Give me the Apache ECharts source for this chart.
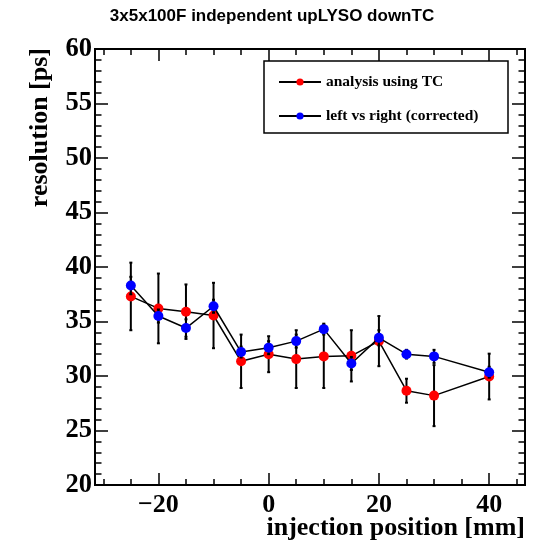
<!DOCTYPE html>
<html>
<head>
<meta charset="utf-8">
<script src="https://cdn.jsdelivr.net/npm/echarts@6/dist/echarts.min.js"></script>
<style>html,body{margin:0;padding:0;background:#fff;}#c{width:544px;height:550px;}</style>
</head>
<body>
<div id="c"></div>
<script>
// ---- data ----
var positions = [-25, -20, -15, -10, -5, 0, 5, 10, 15, 20, 25, 30, 40];
var tcRes  = [37.3, 36.2, 35.9, 35.55, 31.35, 32.0, 31.55, 31.8, 31.85, 33.2, 28.65, 28.2, 29.95];
var tcErr  = [3.1, 3.2, 2.5, 3.0, 2.45, 1.65, 2.65, 2.9, 2.35, 2.3, 1.1, 2.8, 2.1];
var lrRes  = [38.3, 35.5, 34.4, 36.4, 32.2, 32.6, 33.2, 34.3, 31.15, 33.5, 32.0, 31.8, 30.35];
var lrErr  = [0.8, 0.6, 0.8, 0.6, 0.5, 0.6, 0.6, 0.5, 0.6, 0.7, 0.4, 0.6, 0.5];
var xMajorTicks = [-20, 0, 20, 40];
var xMinorTicks = [-30, -25, -15, -10, -5, 5, 10, 15, 25, 30, 35, 45];
var seriesNames = ['analysis using TC', 'left vs right (corrected)'];
var titleText = '3x5x100F independent upLYSO downTC';
var xTitle = 'injection position [mm]';
var yTitle = 'resolution [ps]';

var serif = '"Liberation Serif", "DejaVu Serif", serif';
var sans = '"Liberation Sans", Arial, sans-serif';

function pairs(xs, ys) { return xs.map(function (x, i) { return [x, ys[i]]; }); }
function errData(xs, ys, es) { return xs.map(function (x, i) { return [x, ys[i] - es[i], ys[i] + es[i]]; }); }

function errRender(params, api) {
  var x = api.value(0);
  var lo = api.coord([x, api.value(1)]);
  var hi = api.coord([x, api.value(2)]);
  var w = 1.5;
  var st = { stroke: '#000', lineWidth: 2 };
  return {
    type: 'group',
    children: [
      { type: 'line', shape: { x1: lo[0], y1: lo[1], x2: hi[0], y2: hi[1] }, style: st },
      { type: 'line', shape: { x1: lo[0] - w, y1: lo[1], x2: lo[0] + w, y2: lo[1] }, style: st },
      { type: 'line', shape: { x1: hi[0] - w, y1: hi[1], x2: hi[0] + w, y2: hi[1] }, style: st }
    ]
  };
}

var XMIN = -31.5, XMAX = 46.5;
function xAx(pos, vals, len, labels) {
  return {
    type: 'value', position: pos, min: XMIN, max: XMAX,
    axisLine: { show: false, onZero: false },
    splitLine: { show: false },
    axisTick: { show: true, inside: true, length: len, customValues: vals, lineStyle: { color: '#000', width: 1.5 } },
    axisLabel: labels ? {
      show: true, customValues: vals, margin: 7,
      fontFamily: serif, fontWeight: 'bold', fontSize: 26, color: '#000',
      formatter: function (v) { return v < 0 ? '\u2212' + Math.abs(v) : String(v); }
    } : { show: false }
  };
}
function yAx(pos, labels) {
  return {
    type: 'value', position: pos, min: 20, max: 60, interval: 5,
    axisLine: { show: false, onZero: false },
    splitLine: { show: false },
    axisTick: { show: true, inside: true, length: 13, lineStyle: { color: '#000', width: 1.5 } },
    minorTick: { show: true, splitNumber: 5, length: 6.5, lineStyle: { color: '#000', width: 1.5 } },
    axisLabel: labels ? { show: true, margin: 3, fontFamily: serif, fontWeight: 'bold', fontSize: 26.5, color: '#000' } : { show: false }
  };
}

var chart = echarts.init(document.getElementById('c'), null, { renderer: 'canvas' });
chart.setOption({
  animation: false,
  backgroundColor: '#fff',
  title: {
    text: titleText, left: 'center', top: 3,
    textStyle: { fontFamily: sans, fontWeight: 'bold', fontSize: 17, color: '#000' }
  },
  grid: { left: 95, right: 19, top: 49, bottom: 65, show: true, borderColor: '#000', borderWidth: 2, backgroundColor: 'transparent' },
  xAxis: [
    xAx('bottom', xMajorTicks, 12, true),
    xAx('bottom', xMinorTicks, 6, false),
    xAx('top', xMajorTicks, 12, false),
    xAx('top', xMinorTicks, 6, false)
  ],
  yAxis: [yAx('left', true), yAx('right', false)],
  legend: {
    orient: 'vertical', left: 273, top: 69, itemGap: 18,
    itemWidth: 42, itemHeight: 9,
    textStyle: { fontFamily: serif, fontWeight: 'bold', fontSize: 15.5, color: '#000' },
    data: seriesNames
  },
  graphic: [
    { type: 'rect', shape: { x: 264, y: 61, width: 244, height: 72 }, style: { fill: 'none', stroke: '#000', lineWidth: 1.5 }, z: 100 },
    { type: 'text', x: 525, y: 528, style: { text: xTitle, textAlign: 'right', textVerticalAlign: 'middle', font: 'bold 26px ' + serif, fill: '#000' } },
    { type: 'text', x: 40, y: 48, rotation: Math.PI / 2, style: { text: yTitle, textAlign: 'right', textVerticalAlign: 'middle', font: 'bold 26px ' + serif, fill: '#000' } }
  ],
  series: [
    { type: 'custom', name: 'errTC', renderItem: errRender, data: errData(positions, tcRes, tcErr), encode: { x: 0, y: [1, 2] }, z: 2, silent: true },
    { type: 'line', name: seriesNames[0], data: pairs(positions, tcRes), symbol: 'circle', symbolSize: 10,
      lineStyle: { color: '#000', width: 1.5 }, itemStyle: { color: '#ff0000' }, z: 3 },
    { type: 'custom', name: 'errLR', renderItem: errRender, data: errData(positions, lrRes, lrErr), encode: { x: 0, y: [1, 2] }, z: 4, silent: true },
    { type: 'line', name: seriesNames[1], data: pairs(positions, lrRes), symbol: 'circle', symbolSize: 10,
      lineStyle: { color: '#000', width: 1.5 }, itemStyle: { color: '#0000ff' }, z: 5 }
  ]
});
</script>
</body>
</html>
